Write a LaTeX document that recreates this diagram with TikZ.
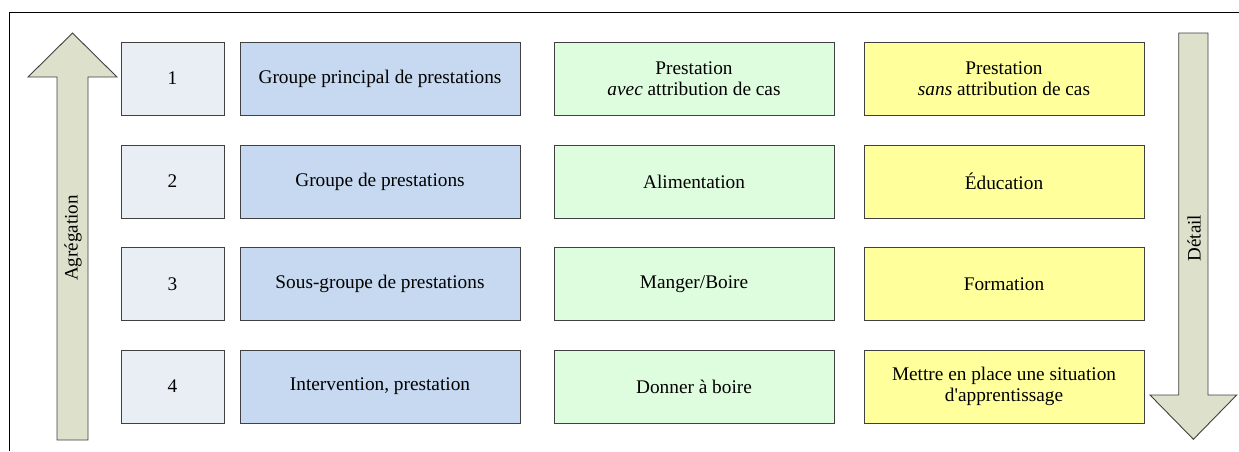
\documentclass[tikz,border=0pt]{standalone}
\usepackage{fontspec}
\setmainfont{Liberation Serif}
\begin{document}
\begin{tikzpicture}[x=1pt,y=-1pt,
  cell/.style={draw=black!75, line width=0.9pt, minimum height=73pt, inner sep=2pt,
    align=center, font=\fontsize{19.3}{21}\selectfont},
  numcell/.style={cell, fill=numfill, minimum width=103pt},
  grpcell/.style={cell, fill=grpfill, minimum width=280pt},
  avec/.style={cell, fill=avecfill, minimum width=280pt},
  sans/.style={cell, fill=sansfill, minimum width=280pt},
  bigarrow/.style={draw=black!75, line width=0.9pt, fill=arrowfill},
  arrowlabel/.style={rotate=90, font=\fontsize{19}{21}\selectfont}]
\definecolor{numfill}{HTML}{E9EDF4}
\definecolor{grpfill}{HTML}{C6D9F0}
\definecolor{avecfill}{HTML}{DEFCDE}
\definecolor{sansfill}{HTML}{FFFF9C}
\definecolor{arrowfill}{HTML}{DDE0CB}
\useasboundingbox (0,0) rectangle (1239,451);
% outer frame
\draw[line width=1.3pt] (9.5,451) -- (9.5,12.5) -- (1239,12.5);

% aggregation arrow (pointing up)
\draw[bigarrow] (57,440) -- (57,77) -- (28,77) -- (72.5,33) -- (117,77) -- (88,77) -- (88,440) -- cycle;
\node[arrowlabel] (agg) at (73,238) {Agrégation};

% detail arrow (pointing down)
\draw[bigarrow] (1178.7,33) -- (1208,33) -- (1208,395) -- (1236.7,395) -- (1193.4,439.3) -- (1150,395) -- (1178.7,395) -- cycle;
\node[arrowlabel] (det) at (1194,238) {Détail};

% level numbers
\node[numcell] (n1) at (172.5,78.5) {1};
\node[numcell] (n2) at (172.5,181.5) {2};
\node[numcell] (n3) at (172.5,284) {3};
\node[numcell] (n4) at (172.5,386.5) {4};

% level names
\node[grpcell] (g1) at (380,78.5) {Groupe principal de prestations};
\node[grpcell] (g2) at (380,181.5) {Groupe de prestations};
\node[grpcell] (g3) at (380,284) {Sous-groupe de prestations};
\node[grpcell] (g4) at (380,386.5) {Intervention, prestation};

% example with case attribution
\node[avec] (a1) at (694,78.5) {Prestation\\\textit{avec} attribution de cas};
\node[avec] (a2) at (694,181.5) {Alimentation};
\node[avec] (a3) at (694,284) {Manger/Boire};
\node[avec] (a4) at (694,386.5) {Donner à boire};

% example without case attribution
\node[sans] (s1) at (1004,78.5) {Prestation\\\textit{sans} attribution de cas};
\node[sans] (s2) at (1004,181.5) {Éducation};
\node[sans] (s3) at (1004,284) {Formation};
\node[sans] (s4) at (1004,386.5) {Mettre en place une situation\\d\textquotesingle apprentissage};
\end{tikzpicture}
\end{document}
